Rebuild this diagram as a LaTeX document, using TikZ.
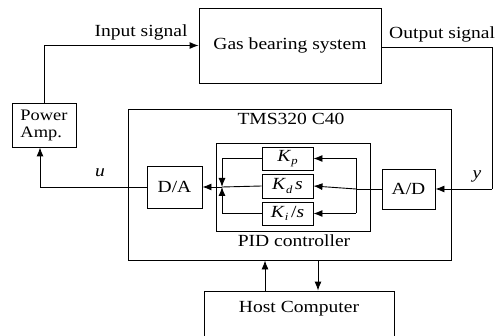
\documentclass[tikz,border=0pt]{standalone}
\usepackage{fontspec}
\setmainfont[FakeStretch=1.15]{Liberation Serif}
\usetikzlibrary{arrows.meta}
\begin{document}
\begin{tikzpicture}[x=1pt,y=-1pt,
  box/.style={draw,line width=0.9pt,rectangle,inner sep=0pt,font=\fontsize{17}{19}\selectfont},
  kbox/.style={box,minimum width=51pt},
  lab/.style={font=\fontsize{17}{19}\selectfont,inner sep=0pt},
  conn/.style={line width=0.9pt,-{Latex[length=9pt,width=7pt]}},
  plain/.style={line width=0.9pt}]
\useasboundingbox (0,0) rectangle (497,336);
% boxes
\node[box,minimum width=182pt,minimum height=75pt] (gas) at (290,45.5) {Gas bearing system};
\node[box,minimum width=64pt,minimum height=44pt,align=left,font=\fontsize{16}{17}\selectfont] (pow) at (44,125) {Power\\Amp.};
\node[box,minimum width=323pt,minimum height=151pt] (tms) at (289.5,184.5) {};
\node[lab] (tmst) at (291,119) {TMS320 C40};
\node[box,minimum width=154pt,minimum height=88pt] (pid) at (293,187) {};
\node[lab] (pidt) at (294,241) {PID controller};
\node[kbox,minimum height=23pt] (kp) at (287.5,158.5) {\textit{K}\raisebox{-0.4ex}{\fontsize{11}{12}\selectfont\textit{p}}};
\node[kbox,minimum height=24pt] (kd) at (287.5,186) {\textit{K}\raisebox{-0.4ex}{\fontsize{11}{12}\selectfont\textit{d}}\,\textit{s}};
\node[kbox,minimum height=23pt] (ki) at (287.5,213.5) {\textit{K}\raisebox{-0.4ex}{\fontsize{11}{12}\selectfont\textit{i}}\,/\textit{s}};
\node[box,minimum width=55pt,minimum height=42pt] (da) at (174.5,187) {D/A};
\node[box,minimum width=53pt,minimum height=40pt] (ad) at (408.5,189) {A/D};
\node[box,minimum width=190pt,minimum height=52pt] (host) at (299,317) {};
\node[lab] (hostt) at (299,309) {Host Computer};
% labels
\node[lab] (inl) at (141,32) {Input signal};
\node[lab,anchor=west] (outl) at (389,34) {Output signal};
\node[lab] (ul) at (100,173) {\textit{u}};
\node[lab] (yl) at (477,176) {\textit{y}};
% coordinates
\coordinate (sum) at (222,187);
\coordinate (split) at (356,187);
\coordinate (outc) at (492,47);
\coordinate (uc) at (40,187);
% connectors
\draw[conn] (pow.north) |- (gas.west);
\draw[plain] (gas.east |- outc) -- (outc) -- (outc |- ad.east);
\draw[conn] (outc |- ad.east) -- (ad.east);
\draw[plain] (ad.west) -- (ad.west -| split);
\draw[conn] (ad.west -| split) -- (kd.east);
\draw[plain] (kp.east -| split) -- (ki.east -| split);
\draw[conn] (kp.east -| split) -- (kp.east);
\draw[conn] (ki.east -| split) -- (ki.east);
\draw[conn] (kp.west) -| (sum);
\draw[conn] (ki.west) -| (sum);
\draw[plain] (kd.west) -- (sum);
\draw[conn] (sum) -- (da.east);
\draw[plain] (da.west) -- (uc);
\draw[conn] (uc) -- (pow.south -| uc);
\draw[conn] (host.north -| 265,0) -- (tms.south -| 265,0);
\draw[conn] (tms.south -| 318,0) -- (host.north -| 318,0);
\end{tikzpicture}
\end{document}
